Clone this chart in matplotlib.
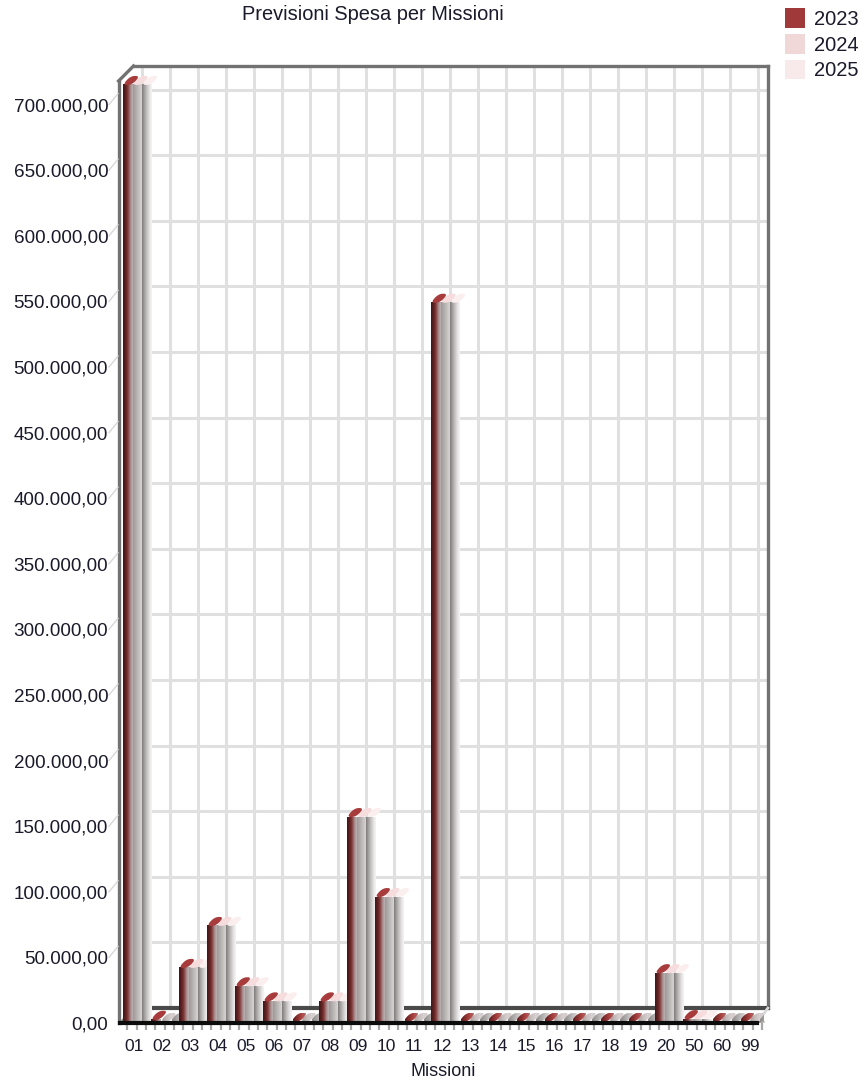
import numpy as np
import matplotlib
matplotlib.use("Agg")
import matplotlib.pyplot as plt
from matplotlib.colors import LinearSegmentedColormap
from matplotlib.patches import Patch, Polygon

categories = ["01","02","03","04","05","06","07","08","09","10","11","12",
              "13","14","15","16","17","18","19","20","50","60","99"]
series_names = ["2023","2024","2025"]
values_2023 = [715000,2500,42000,74000,28000,16500,1000,16500,157000,96000,1000,549000,
               1000,1000,1000,1000,1000,1000,1000,38000,3000,1000,1000]
values_2024 = [715000,1000,42000,74000,28000,16500,1000,16500,157000,96000,1000,549000,
               1000,1000,1000,1000,1000,1000,1000,38000,3000,1000,1000]
values_2025 = [715000,1000,42000,74000,28000,16500,1000,16500,157000,96000,1000,549000,
               1000,1000,1000,1000,1000,1000,1000,38000,3000,1000,1000]
y_ticks = list(range(0, 750000, 50000))
title = "Previsioni Spesa per Missioni"
xlabel = "Missioni"

W, H = 865, 1086
plt.rcParams['font.family'] = ['Liberation Sans', 'DejaVu Sans']
fig = plt.figure(figsize=(W/100, H/100), dpi=100)
L, R, B, T = 120, 764, 1023, 39
ax = fig.add_axes([L/W, 1-B/H, (R-L)/W, (B-T)/H])
XMAX, YMAX = 22.5, 750000
px_x = 23/(R-L); px_y = YMAX/(B-T)
DX, DY = 13.5*px_x, 15*px_y     # depth of the 3D box

legend_colors = ["#a03a3a", "#f0d8d8", "#f8eaea"]
top_colors = ["#a83c3c", "#f6dcdc", "#fbeeee"]
grad = [
    ["#431616", "#5c2020", "#843a3a", "#a68a8a", "#bcb4b4"],
    ["#989090", "#a8a2a2", "#b8b3b3", "#c8c4c4", "#d6d3d3"],
    ["#807c7c", "#a4a0a0", "#c6c3c3", "#e2e0e0", "#f8f7f7"],
]
cap_grad = [
    ["#5a1f1f", "#8a3030", "#b04a4a", "#a87878"],
    ["#a89c9c", "#c4baba", "#d8d0d0", "#cfcaca"],
    ["#8c8888", "#a8a4a4", "#c4c0c0", "#dcdada"],
]
cmaps = [LinearSegmentedColormap.from_list(f"c{i}", g) for i, g in enumerate(grad)]
cap_cmaps = [LinearSegmentedColormap.from_list(f"k{i}", g) for i, g in enumerate(cap_grad)]
ramp = np.linspace(0, 1, 64).reshape(1, -1)

# back wall
grid_c = "#e0e0e0"
back_l, back_r = -0.5 + DX, 22.64
top_v = 718000
for v in y_ticks[1:]:
    ax.plot([back_l, back_r], [v+DY, v+DY], color=grid_c, lw=2.2, zorder=1, clip_on=False)
for i in range(len(categories)):
    ax.plot([i+0.29]*2, [DY, top_v+DY], color=grid_c, lw=2.2, zorder=1, clip_on=False)

edge = "#727272"
box = dict(color=edge, lw=2.4, zorder=2, clip_on=False, solid_capstyle="projecting")
ax.plot([back_l, back_r], [top_v+DY]*2, **box)
ax.plot([back_r, back_r], [DY, top_v+DY], **box)
ax.plot([-0.55, back_l], [top_v, top_v+DY], **box)
ax.plot([-0.55, -0.55], [0, top_v], **box)
ax.plot([back_l, back_r], [DY, DY], color="#4a4a4a", lw=3, zorder=2, clip_on=False)
ax.plot([-0.5, back_l], [0, DY], color="#8a8a8a", lw=1.5, zorder=2)
ax.plot([22.25, back_r], [0, DY], color="#d8d8d8", lw=2, zorder=2, clip_on=False)
ax.plot([-0.5, 22.25], [0, 0], color="#0c0c0c", lw=3.0, zorder=7, clip_on=False)

# diagonal tick marks on the left of the value axis
for v in y_ticks[1:]:
    ax.plot([-0.5-11*px_x, -0.5-2*px_x], [v, v+11*px_y], color="#d8d8d8", lw=1, zorder=2, clip_on=False)

# cylinders
w = 0.34
TINY = 1500
all_vals = [values_2023, values_2024, values_2025]
t = np.linspace(0, 2*np.pi, 80)
shear_x, cap_h = 4*px_x, 4.5*px_y
u = np.sign(np.cos(t))*np.abs(np.cos(t))**0.8
s_ = np.sign(np.sin(t))*np.abs(np.sin(t))**0.8
tick_x = []
for s in (2, 1, 0):
    for i, v in enumerate(all_vals[s]):
        x0 = i - 0.41 + s*w
        x1 = x0 + w
        tick_x.append((x0+x1)/2)
        z = 3 + (2-s)
        ax.imshow(ramp, extent=(x0, x1, 0, v), cmap=cmaps[s], aspect="auto",
                  interpolation="bilinear", zorder=z)
        cx = (x0+x1)/2 + shear_x
        cy = v + cap_h
        pts = np.c_[cx + (x1-x0)/2*u + shear_x*s_, cy + cap_h*s_]
        if v <= TINY:
            poly = Polygon(pts, closed=True, fc="none", ec="none", zorder=z+0.5)
            ax.add_patch(poly)
            im = ax.imshow(ramp, extent=(pts[:, 0].min(), pts[:, 0].max(), pts[:, 1].min(), pts[:, 1].max()),
                           cmap=cap_cmaps[s], aspect="auto", interpolation="bilinear", zorder=z+0.5)
            im.set_clip_path(poly)
        else:
            ax.add_patch(Polygon(pts, closed=True, fc=top_colors[s], ec="none",
                                 zorder=z+0.5, clip_on=False))

# little marks under the floor line
ax.vlines(tick_x, -6.5*px_y, 0, color="#a8a8a8", lw=1.6, zorder=2, clip_on=False)

ax.set_xlim(-0.5, XMAX)
ax.set_ylim(0, YMAX)
for sp in ax.spines.values():
    sp.set_visible(False)
ax.patch.set_visible(False)

ax.set_xticks(range(len(categories)))
ax.set_xticklabels(categories)
ax.set_yticks(y_ticks)
ax.set_yticklabels([f"{v:,.2f}".replace(",", "#").replace(".", ",").replace("#", ".") for v in y_ticks])
ax.tick_params(axis="x", length=0, pad=11.5, labelsize=12.5, labelcolor="#1a1a2a")
ax.tick_params(axis="y", length=0, pad=8.5, labelsize=13.6, labelcolor="#1a1a2a")

fig.text(372.5/W, 1-15/H, title, ha="center", va="center", fontsize=14.4, color="#1a1a2a")
fig.text(443/W, 1-1071/H, xlabel, ha="center", va="center", fontsize=13, color="#1a1a2a")

handles = [Patch(facecolor=c, edgecolor="none") for c in legend_colors]
fs = 14.5
leg = fig.legend(handles, series_names, loc="upper left", bbox_to_anchor=(785/W, 1-8/H),
                 frameon=False, fontsize=fs, borderpad=0, borderaxespad=0,
                 handlelength=20/(fs*100/72), handleheight=23/(fs*100/72),
                 handletextpad=9/(fs*100/72), labelspacing=5/(fs*100/72))
for txt in leg.get_texts():
    txt.set_color("#1a1a2a")

fig.savefig("out.png", dpi=100, facecolor="white")
